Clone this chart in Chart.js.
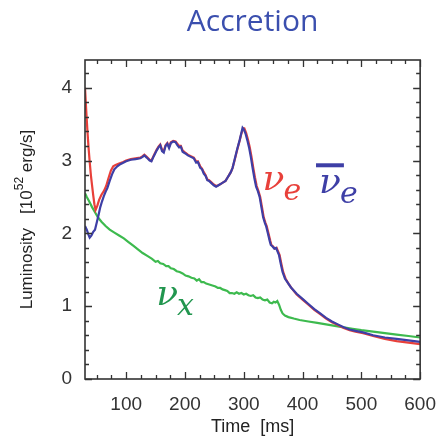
<!DOCTYPE html>
<html>
<head>
<meta charset="utf-8">
<script src="https://cdn.jsdelivr.net/npm/chart.js@4.4.1/dist/chart.umd.min.js"></script>
<style>
  html, body { margin: 0; padding: 0; background: #fff; }
  #wrap { width: 442px; height: 439px; position: relative; }
</style>
</head>
<body>
<div id="wrap"><canvas id="lumChart"></canvas></div>
<script>
// anti electron neutrino (blue)
const tBlue = [30, 33, 36, 38, 41, 44, 47, 50, 53, 56, 59, 62, 65, 68, 72, 76, 80, 85, 90, 95, 100, 108, 116, 124, 128, 131, 135, 140, 143, 147, 152, 155, 158, 161, 164, 167, 170, 173, 176, 180, 184, 187, 190, 193, 196, 200, 205, 210, 215, 219, 222, 226, 229, 232, 235, 238, 241, 245, 249, 253, 257, 261, 265, 269, 272, 275, 278, 281, 285, 289, 293, 296, 298, 300, 303, 306, 309, 312, 315, 318, 321, 324, 327, 330, 333, 336, 338, 341, 344, 346, 349, 352, 355, 357, 360, 363, 366, 370, 375, 380, 390, 400, 410, 420, 430, 440, 450, 460, 470, 480, 490, 503, 520, 540, 560, 580, 600];
const lumBlue = [2.10, 2.05, 1.98, 1.94, 1.97, 2.02, 2.05, 2.15, 2.25, 2.36, 2.44, 2.51, 2.57, 2.62, 2.72, 2.81, 2.88, 2.92, 2.95, 2.97, 2.99, 3.01, 3.02, 3.03, 3.05, 3.07, 3.04, 3.00, 2.99, 3.06, 3.14, 3.18, 3.21, 3.13, 3.11, 3.20, 3.23, 3.17, 3.24, 3.26, 3.25, 3.21, 3.18, 3.19, 3.12, 3.10, 3.07, 3.05, 3.03, 2.97, 2.98, 2.90, 2.88, 2.82, 2.79, 2.73, 2.72, 2.69, 2.66, 2.64, 2.66, 2.68, 2.70, 2.72, 2.76, 2.80, 2.84, 2.90, 3.03, 3.16, 3.28, 3.38, 3.45, 3.43, 3.37, 3.28, 3.18, 3.05, 2.90, 2.76, 2.64, 2.58, 2.50, 2.36, 2.22, 2.14, 2.10, 2.00, 1.90, 1.84, 1.82, 1.79, 1.80, 1.76, 1.70, 1.58, 1.47, 1.38, 1.32, 1.26, 1.17, 1.10, 1.03, 0.96, 0.90, 0.84, 0.79, 0.75, 0.71, 0.68, 0.66, 0.64, 0.60, 0.57, 0.55, 0.53, 0.51];

// electron neutrino (red)
const tRed = [30, 32, 34, 36, 38, 40, 42, 44, 46, 48, 51, 54, 58, 62, 66, 70, 74, 78, 82, 88, 95, 100, 108, 116, 124, 128, 131, 135, 140, 143, 147, 152, 155, 158, 161, 164, 167, 170, 173, 176, 180, 184, 187, 190, 193, 196, 200, 205, 210, 215, 219, 222, 226, 229, 232, 235, 238, 241, 245, 249, 253, 257, 261, 265, 269, 272, 275, 278, 281, 285, 289, 293, 296, 299, 301, 304, 307, 310, 313, 316, 319, 322, 325, 328, 331, 334, 337, 339, 342, 345, 347, 350, 353, 356, 358, 361, 364, 367, 371, 376, 381, 390, 400, 410, 420, 430, 440, 450, 460, 470, 480, 490, 503, 520, 540, 560, 580, 600];
const lumRed = [4.00, 3.70, 3.42, 3.18, 2.98, 2.80, 2.66, 2.52, 2.40, 2.32, 2.38, 2.46, 2.53, 2.58, 2.65, 2.76, 2.86, 2.92, 2.94, 2.96, 2.98, 3.00, 3.02, 3.03, 3.04, 3.06, 3.08, 3.05, 3.01, 3.00, 3.07, 3.15, 3.19, 3.22, 3.15, 3.13, 3.21, 3.24, 3.19, 3.25, 3.27, 3.26, 3.23, 3.20, 3.20, 3.14, 3.11, 3.08, 3.06, 3.04, 2.99, 2.99, 2.92, 2.89, 2.84, 2.80, 2.74, 2.73, 2.70, 2.67, 2.65, 2.66, 2.68, 2.70, 2.72, 2.76, 2.80, 2.84, 2.90, 3.02, 3.15, 3.27, 3.37, 3.44, 3.44, 3.38, 3.29, 3.19, 3.06, 2.91, 2.77, 2.65, 2.58, 2.50, 2.36, 2.22, 2.14, 2.10, 2.00, 1.90, 1.84, 1.82, 1.79, 1.80, 1.76, 1.70, 1.58, 1.47, 1.38, 1.31, 1.25, 1.16, 1.09, 1.02, 0.95, 0.89, 0.83, 0.78, 0.74, 0.70, 0.67, 0.65, 0.63, 0.59, 0.55, 0.52, 0.50, 0.48];

// heavy lepton neutrinos (green)
const tGreen = [30, 33, 37, 42, 47, 52, 58, 65, 72, 80, 88, 96, 104, 112, 120, 128, 136, 144, 150, 154, 158, 163, 168, 172, 176, 181, 186, 191, 196, 201, 206, 211, 216, 220, 224, 228, 232, 236, 240, 244, 248, 252, 256, 260, 264, 268, 272, 276, 280, 284, 288, 292, 296, 300, 304, 308, 312, 316, 320, 324, 328, 332, 336, 340, 344, 348, 351, 354, 357, 360, 363, 366, 370, 376, 385, 395, 410, 425, 440, 455, 470, 485, 500, 520, 540, 560, 580, 600];
const lumGreen = [2.55, 2.50, 2.44, 2.36, 2.29, 2.22, 2.16, 2.10, 2.05, 2.01, 1.97, 1.93, 1.88, 1.83, 1.78, 1.73, 1.69, 1.65, 1.61, 1.62, 1.59, 1.58, 1.55, 1.55, 1.52, 1.51, 1.48, 1.47, 1.45, 1.42, 1.41, 1.39, 1.38, 1.35, 1.37, 1.33, 1.33, 1.31, 1.30, 1.29, 1.28, 1.27, 1.25, 1.25, 1.23, 1.22, 1.21, 1.18, 1.18, 1.17, 1.19, 1.17, 1.18, 1.16, 1.17, 1.15, 1.14, 1.15, 1.12, 1.11, 1.12, 1.09, 1.08, 1.09, 1.05, 1.04, 1.06, 1.05, 1.07, 1.02, 0.95, 0.90, 0.87, 0.85, 0.83, 0.81, 0.79, 0.77, 0.75, 0.73, 0.71, 0.69, 0.67, 0.65, 0.63, 0.61, 0.59, 0.57];

// axes
const xTicks = [100, 200, 300, 400, 500, 600];
const xMinor = [50, 75, 125, 150, 175, 225, 250, 275, 325, 350, 375, 425, 450, 475, 525, 550, 575];
const yTicks = [0, 1, 2, 3, 4];
const yMinor = [0.2, 0.4, 0.6, 0.8, 1.2, 1.4, 1.6, 1.8, 2.2, 2.4, 2.6, 2.8, 3.2, 3.4, 3.6, 3.8, 4.2];

const RED = '#e8403a', BLUE = '#3e3fa6', GREEN = '#3dba4e';

function pts(t, v) { return t.map((x, i) => ({ x: x, y: v[i] })); }

// inward ticks on all four sides + frame
const frameTicks = {
  id: 'frameTicks',
  afterDraw(chart) {
    const { ctx, chartArea: a, scales: { x, y } } = chart;
    ctx.save();
    ctx.strokeStyle = '#333';
    ctx.lineWidth = 1.3;
    ctx.beginPath();
    const xt = (v, len) => {
      const px = Math.round(x.getPixelForValue(v)) + 0.5;
      ctx.moveTo(px, a.bottom); ctx.lineTo(px, a.bottom - len);
      ctx.moveTo(px, a.top); ctx.lineTo(px, a.top + len);
    };
    const yt = (v, len) => {
      const py = Math.round(y.getPixelForValue(v)) + 0.5;
      ctx.moveTo(a.left, py); ctx.lineTo(a.left + len, py);
      ctx.moveTo(a.right, py); ctx.lineTo(a.right - len, py);
    };
    xTicks.forEach(v => xt(v, 7));
    xMinor.forEach(v => xt(v, 4));
    yTicks.forEach(v => yt(v, 7));
    yMinor.forEach(v => yt(v, 4));
    ctx.stroke();
    ctx.lineWidth = 1.6;
    ctx.strokeRect(a.left, a.top, a.right - a.left, a.bottom - a.top);

    // y axis title with a real superscript
    const big = '17px "Liberation Sans"', small = '12px "Liberation Sans"';
    const parts = [['Luminosity   [10', big, 0], ['52', small, -7], [' erg/s]', big, 0]];
    ctx.fillStyle = '#222';
    ctx.textBaseline = 'middle';
    ctx.textAlign = 'left';
    let total = 0;
    parts.forEach(p => { ctx.font = p[1]; total += ctx.measureText(p[0]).width; });
    ctx.translate(27, (a.top + a.bottom) / 2);
    ctx.rotate(-Math.PI / 2);
    let cx = -total / 2;
    parts.forEach(p => {
      ctx.font = p[1];
      ctx.fillText(p[0], cx, p[2]);
      cx += ctx.measureText(p[0]).width;
    });
    ctx.restore();
  }
};

// nu labels next to the curves
const nuLabels = {
  id: 'nuLabels',
  afterDatasetsDraw(chart) {
    const { ctx, scales: { x, y } } = chart;
    ctx.save();
    ctx.textBaseline = 'alphabetic';
    ctx.textAlign = 'left';
    const nu = (t, l, sub, color, bar) => {
      const px = x.getPixelForValue(t), py = y.getPixelForValue(l);
      ctx.fillStyle = color;
      ctx.font = 'italic 36px "DejaVu Serif"';
      ctx.fillText('\u03bd', px, py);
      const w = ctx.measureText('\u03bd').width;
      if (bar) ctx.fillRect(px - 3, py - 30, w + 6, 4);
      ctx.font = 'italic 30px "DejaVu Serif"';
      ctx.fillText(sub, px + w - 1, py + 10);
    };
    nu(332, 2.59, 'e', RED, false);
    nu(428, 2.55, 'e', BLUE, true);
    nu(151, 1.01, 'x', '#22964f', false);
    ctx.restore();
  }
};

new Chart(document.getElementById('lumChart'), {
  type: 'line',
  data: {
    datasets: [
      { label: 'anti nu_e', data: pts(tBlue, lumBlue), borderColor: BLUE, order: 1 },
      { label: 'nu_e', data: pts(tRed, lumRed), borderColor: RED, order: 2 },
      { label: 'nu_x', data: pts(tGreen, lumGreen), borderColor: GREEN, order: 3 }
    ]
  },
  options: {
    responsive: true,
    maintainAspectRatio: false,
    animation: false,
    layout: { padding: { top: 0, right: 17, bottom: 0, left: 0 } },
    elements: {
      line: { borderWidth: 2.2, tension: 0 },
      point: { radius: 0 }
    },
    plugins: {
      legend: { display: false },
      tooltip: { enabled: false },
      title: {
        display: true,
        text: 'Accretion',
        fullSize: false,
        color: '#3b4fae',
        font: { family: '"Open Sans"', size: 30, weight: 'normal' },
        padding: { top: 4, bottom: 20 }
      }
    },
    scales: {
      x: {
        type: 'linear',
        min: 30,
        max: 600,
        grid: { display: false },
        border: { display: false },
        afterBuildTicks: s => { s.ticks = xTicks.map(v => ({ value: v })); },
        afterFit: s => { s.height = 60; },
        ticks: { color: '#333', padding: 6, font: { family: '"Liberation Sans"', size: 19 } },
        title: {
          display: true,
          text: 'Time  [ms]',
          color: '#222',
          padding: { top: 0, bottom: 1 },
          font: { family: '"Liberation Sans"', size: 18 }
        }
      },
      y: {
        min: 0,
        max: 4.38,
        grid: { display: false },
        border: { display: false },
        afterBuildTicks: s => { s.ticks = yTicks.map(v => ({ value: v })); },
        afterFit: s => { s.width = 85; },
        ticks: { color: '#333', padding: 5, font: { family: '"Liberation Sans"', size: 19 } }
      }
    }
  },
  plugins: [frameTicks, nuLabels]
});
</script>
</body>
</html>
